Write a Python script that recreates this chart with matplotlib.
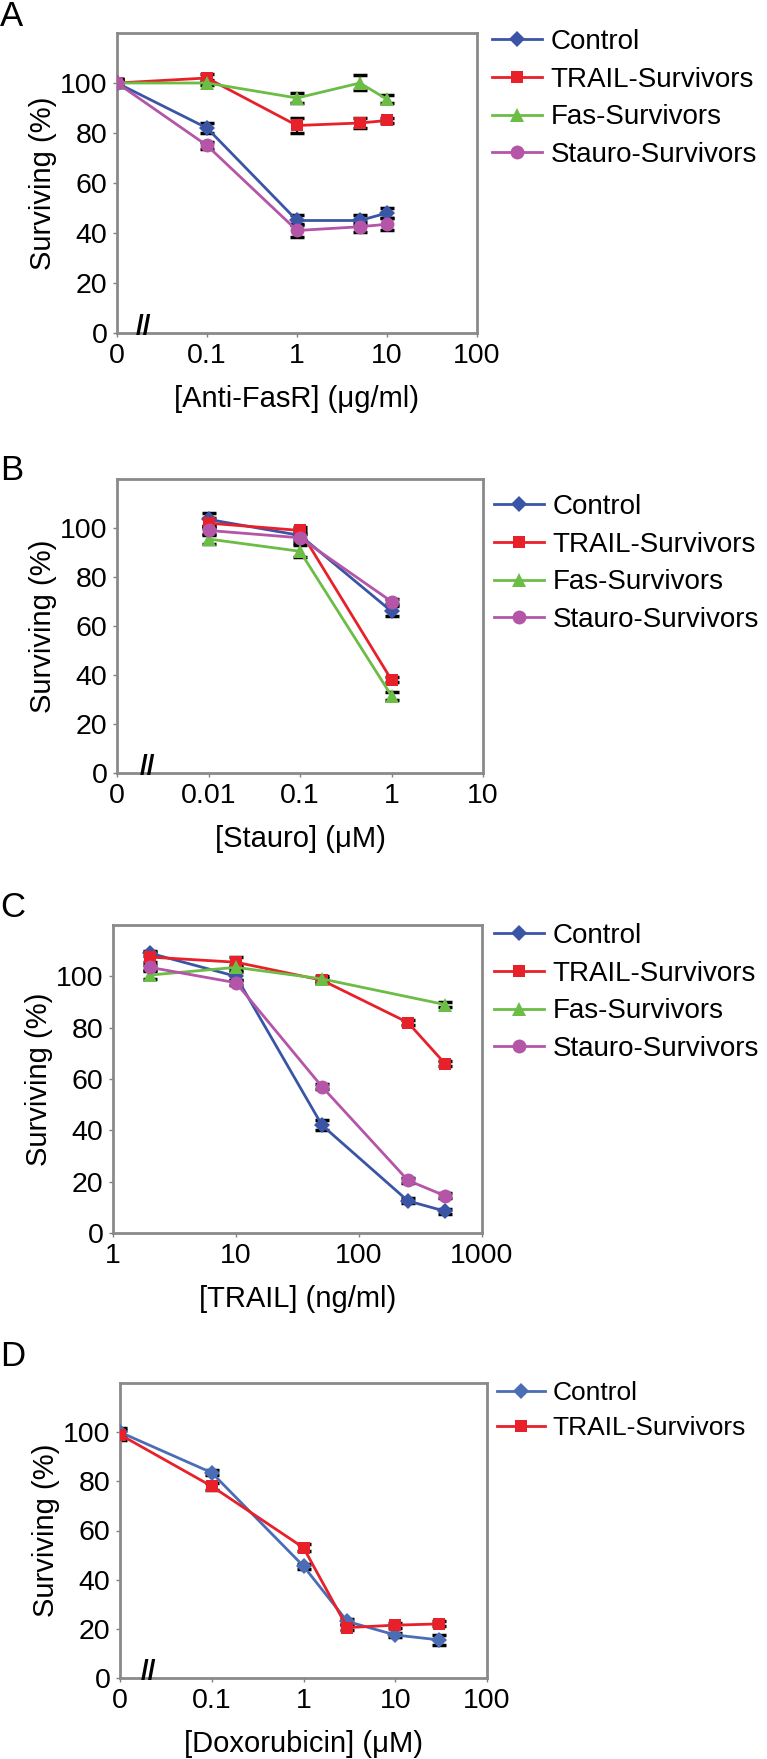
import matplotlib
matplotlib.use("Agg")
import matplotlib.pyplot as plt
import matplotlib.transforms as mtransforms

plt.rcParams['font.family'] = ['Liberation Sans', 'DejaVu Sans']

W, H = 767, 1759

# ---- data ----
series_names = ["Control", "TRAIL-Survivors", "Fas-Survivors", "Stauro-Survivors"]

a_x = [0, 0.1, 1, 5, 10]
a_control = [100, 82, 45, 45, 48]
a_trail = [100, 102, 83, 84, 85]
a_fas = [100, 100, 94, 100, 93.5]
a_stauro = [100, 75, 41, 42.5, 43.5]
a_control_err = [1.5, 2, 2, 2, 2]
a_trail_err = [1.5, 1.5, 3, 2, 1]
a_fas_err = [1, 1, 2, 3, 1.5]
a_stauro_err = [1.5, 1.5, 2.5, 2, 2.5]

b_x = [0.01, 0.1, 1]
b_control = [103.5, 97, 66]
b_trail = [102, 99, 38]
b_fas = [95.5, 90.5, 31.5]
b_stauro = [99, 96, 70]
b_control_err = [2.5, 2, 2]
b_trail_err = [2, 1.5, 1]
b_fas_err = [2, 2.5, 1.5]
b_stauro_err = [2, 2, 1]

c_x = [2, 10, 50, 250, 500]
c_control = [109, 100, 42, 12.5, 8.5]
c_trail = [107.5, 105.5, 98.5, 82, 66]
c_fas = [100.5, 103.5, 99, None, 89]
c_stauro = [103.5, 97.5, 57, 20.5, 14.5]
c_control_err = [1, 1.5, 2, 1, 1]
c_trail_err = [2, 2, 1, 1, 1]
c_fas_err = [1.5, 1, 1, 0, 1]
c_stauro_err = [1, 1, 1, 1, 1]

d_x = [0, 0.1, 1, 3, 10, 30]
d_control = [100, 83.5, 45.5, 23, 17.5, 15.5]
d_trail = [99, 78, 53, 20.5, 21.5, 22]
d_control_err = [1.5, 1, 1, 1, 1, 2]
d_trail_err = [2, 1.5, 1.5, 1, 1, 1]

colors = ["#3a55a5", "#e8202a", "#6bbd45", "#b455a8"]
markers = ["D", "s", "^", "o"]
msizes = [8, 9, 10, 10]


def add_ax(l, r, t, b):
    return fig.add_axes([l / W, 1 - b / H, (r - l) / W, (b - t) / H])


def style_ax(ax, xlim, ticks, labels, xlabel):
    ax.set_xscale("log")
    ax.set_xlim(*xlim)
    ax.set_ylim(0, 120)
    ax.set_yticks([0, 20, 40, 60, 80, 100])
    ax.set_xticks(ticks)
    ax.set_xticklabels(labels)
    ax.minorticks_off()
    ax.tick_params(axis="both", labelsize=20.5, length=3, width=1, color="#808080", pad=4)
    for s in ax.spines.values():
        s.set_color("#8a8a8a")
        s.set_linewidth(2)
    ax.set_ylabel("Surviving (%)", fontsize=21, labelpad=2)
    ax.set_xlabel(xlabel, fontsize=21, labelpad=12)


def plot_series(ax, x, ys, errs, cols, mks, mss, zero_pos, lw=2):
    handles = []
    for y, e, c, m, ms in zip(ys, errs, cols, mks, mss):
        pts = [(zero_pos if xx == 0 else xx, yy, ee) for xx, yy, ee in zip(x, y, e) if yy is not None]
        xs = [p[0] for p in pts]
        yv = [p[1] for p in pts]
        ev = [p[2] for p in pts]
        ax.errorbar(xs, yv, yerr=ev, fmt="none", ecolor="black", elinewidth=1.5,
                    capsize=5, capthick=2.5, zorder=2)
        h, = ax.plot(xs, yv, color=c, marker=m, markersize=ms, lw=lw, zorder=3,
                     markeredgewidth=0)
        handles.append(h)
    return handles


def break_mark(ax, xpx, l, r):
    trans = mtransforms.blended_transform_factory(ax.transAxes, ax.transAxes)
    ax.text((xpx - l) / (r - l), 0.02, "//", transform=trans, fontsize=20,
            fontweight="bold", ha="center", va="center", clip_on=False)


def add_legend(ax, handles, names, x_px, ytop_px, fs=20):
    fig.legend(handles, names, loc="upper left",
               bbox_to_anchor=(x_px / W, 1 - ytop_px / H),
               frameon=False, fontsize=fs, handlelength=1.8, handletextpad=0.3,
               labelspacing=0.42, borderpad=0, borderaxespad=0)


fig = plt.figure(figsize=(W / 100, H / 100), dpi=100)

# Panel A
l, r, t, b = 117, 477, 33, 333
axA = add_ax(l, r, t, b)
style_ax(axA, (0.01, 100), [0.01, 0.1, 1, 10, 100], ["0", "0.1", "1", "10", "100"],
         "[Anti-FasR] (\u03bcg/ml)")
hA = plot_series(axA, a_x, [a_control, a_trail, a_fas, a_stauro],
                 [a_control_err, a_trail_err, a_fas_err, a_stauro_err],
                 colors, markers, msizes, 0.01)
break_mark(axA, 143, l, r)
add_legend(axA, hA, series_names, 492, 29)
fig.text(0, 1 - 16 / H, "A", fontsize=25, va="center", ha="left")

# Panel B
l, r, t, b = 117, 483, 479, 773
axB = add_ax(l, r, t, b)
style_ax(axB, (0.001, 10), [0.001, 0.01, 0.1, 1, 10], ["0", "0.01", "0.1", "1", "10"],
         "[Stauro] (\u03bcM)")
hB = plot_series(axB, b_x, [b_control, b_trail, b_fas, b_stauro],
                 [b_control_err, b_trail_err, b_fas_err, b_stauro_err],
                 colors, markers, msizes, 0.001)
break_mark(axB, 147, l, r)
add_legend(axB, hB, series_names, 494, 494)
fig.text(0, 1 - 470 / H, "B", fontsize=25, va="center", ha="left")

# Panel C
l, r, t, b = 113, 482, 925, 1233
axC = add_ax(l, r, t, b)
style_ax(axC, (1, 1000), [1, 10, 100, 1000], ["1", "10", "100", "1000"],
         "[TRAIL] (ng/ml)")
hC = plot_series(axC, c_x, [c_control, c_trail, c_fas, c_stauro],
                 [c_control_err, c_trail_err, c_fas_err, c_stauro_err],
                 colors, markers, msizes, 1)
add_legend(axC, hC, series_names, 494, 923)
fig.text(0, 1 - 908 / H, "C", fontsize=25, va="center", ha="left")

# Panel D
l, r, t, b = 120, 487, 1383, 1678
axD = add_ax(l, r, t, b)
style_ax(axD, (0.01, 100), [0.01, 0.1, 1, 10, 100], ["0", "0.1", "1", "10", "100"],
         "[Doxorubicin] (\u03bcM)")
hD = plot_series(axD, d_x, [d_control, d_trail], [d_control_err, d_trail_err],
                 ["#4a6db5", "#e8202a"], ["D", "s"], [8, 9], 0.01)
break_mark(axD, 148, l, r)
add_legend(axD, hD, series_names[:2], 497, 1381, fs=19)
fig.text(0, 1 - 1357 / H, "D", fontsize=25, va="center", ha="left")

fig.savefig("out.png", dpi=100)
